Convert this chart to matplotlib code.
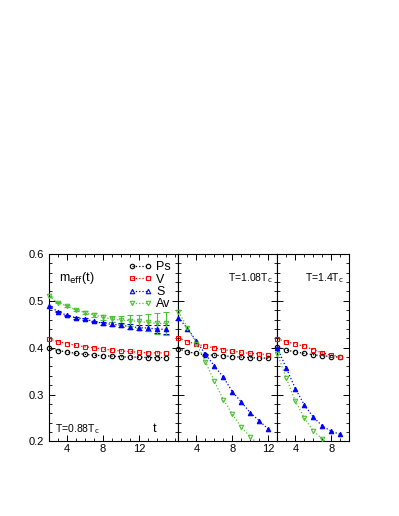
import matplotlib
matplotlib.use("Agg")
import matplotlib.pyplot as plt
from matplotlib.lines import Line2D
from matplotlib.ticker import MultipleLocator

plt.rcParams["font.family"] = ["Liberation Sans", "DejaVu Sans"]

# ---- data: effective masses m_eff(t) ----
t1 = list(range(2, 16))
ps1 = [0.399, 0.394, 0.391, 0.388, 0.386, 0.384, 0.383, 0.382, 0.381, 0.380, 0.380, 0.379, 0.379, 0.379]
v1 = [0.419, 0.413, 0.409, 0.405, 0.402, 0.400, 0.397, 0.395, 0.393, 0.392, 0.390, 0.389, 0.389, 0.389]
s1 = [0.489, 0.477, 0.469, 0.464, 0.461, 0.456, 0.452, 0.450, 0.448, 0.445, 0.443, 0.442, 0.440, 0.439]
av1 = [0.510, 0.496, 0.489, 0.481, 0.475, 0.470, 0.465, 0.461, 0.459, 0.458, 0.456, 0.454, 0.452, 0.452]
s1_err = [0.001, 0.001, 0.001, 0.002, 0.002, 0.002, 0.003, 0.004, 0.004, 0.005, 0.006, 0.007, 0.008, 0.009]
av1_err = [0.001, 0.001, 0.002, 0.002, 0.003, 0.004, 0.005, 0.007, 0.009, 0.011, 0.014, 0.018, 0.022, 0.025]

t2 = list(range(2, 13))
ps2 = [0.398, 0.391, 0.388, 0.385, 0.384, 0.383, 0.381, 0.380, 0.379, 0.378, 0.378]
v2 = [0.421, 0.413, 0.408, 0.403, 0.400, 0.396, 0.393, 0.390, 0.388, 0.387, 0.385]
s2 = [0.464, 0.441, 0.414, 0.386, 0.361, 0.337, 0.306, 0.284, 0.261, 0.244, 0.226]
av2 = [0.477, 0.443, 0.409, 0.370, 0.328, 0.289, 0.258, 0.230, 0.210, 0.192, 0.178]

t3 = list(range(2, 10))
ps3 = [0.401, 0.395, 0.391, 0.388, 0.385, 0.383, 0.381, 0.380]
v3 = [0.419, 0.413, 0.408, 0.403, 0.396, 0.389, 0.384, 0.381]
s3 = [0.400, 0.356, 0.313, 0.278, 0.252, 0.233, 0.222, 0.215]
av3 = [0.387, 0.335, 0.286, 0.250, 0.223, 0.205, 0.190, 0.178]

labels = ["Ps", "V", "S", "Av"]
temps = ["T=0.88T$_{\\rm c}$", "T=1.08T$_{\\rm c}$", "T=1.4T$_{\\rm c}$"]
xticks = [[4, 8, 12], [4, 8, 12], [4, 8]]

colors = ["black", "#ff0000", "#0000ff", "#4cc234"]
markers = ["o", "s", "^", "v"]
fills = ["none", "none", "#0000ff", "none"]

YMIN, YMAX = 0.2, 0.6


def draw(ax, t, series, errs=None):
    for i, y in enumerate(series):
        ax.plot(t, y, ls=":", lw=0.9, color=colors[i])
        inside = [(a, b) for a, b in zip(t, y) if YMIN <= b <= YMAX]
        ax.plot([a for a, _ in inside], [b for _, b in inside], ls="none",
                marker=markers[i], ms=3.2, mew=0.8, mec=colors[i],
                mfc=fills[i], clip_on=False, zorder=3)
        if errs is not None and errs[i] is not None:
            ax.errorbar(t, y, yerr=errs[i], fmt="none", ecolor=colors[i],
                        elinewidth=0.8, capsize=2, capthick=0.8)


fig = plt.figure(figsize=(3.99, 5.16), dpi=100)
left, right = 0.1228, 0.8754
bottom, top = 0.1444, 0.5078
widths = [14.4, 11.0, 8.0]
tot = sum(widths)
x0 = left
axes = []
for w in widths:
    fw = (right - left) * w / tot
    axes.append(fig.add_axes([x0, bottom, fw, top - bottom]))
    x0 += fw

xlims = [(2, 16.4), (2, 13), (2, 10)]
for k, ax in enumerate(axes):
    ax.set_xlim(*xlims[k])
    ax.set_ylim(YMIN, YMAX)
    ax.set_xticks(xticks[k])
    ax.xaxis.set_minor_locator(MultipleLocator(1))
    ax.yaxis.set_major_locator(MultipleLocator(0.1))
    ax.yaxis.set_minor_locator(MultipleLocator(0.02))
    ax.tick_params(which="both", direction="in", top=True, right=True, labelsize=8)
    ax.tick_params(which="major", length=4, width=0.7)
    ax.tick_params(which="minor", length=2, width=0.6)
    ax.tick_params(axis="x", pad=2)
    for sp in ax.spines.values():
        sp.set_linewidth(0.8)
    if k > 0:
        ax.set_yticklabels([])
    else:
        ax.set_yticks([0.2, 0.3, 0.4, 0.5, 0.6])
        ax.set_yticklabels(["0.2", "0.3", "0.4", "0.5", "0.6"])

draw(axes[0], t1, [ps1, v1, s1, av1], [None, None, s1_err, av1_err])
draw(axes[1], t2, [ps2, v2, s2, av2])
draw(axes[2], t3, [ps3, v3, s3, av3])

axes[0].text(0.08, 0.87, r"m$_{\rm eff}$(t)", transform=axes[0].transAxes,
             fontsize=9, va="center")
axes[0].text(0.05, 0.065, temps[0], transform=axes[0].transAxes, fontsize=7.5, va="center")
axes[0].text(0.80, 0.065, "t", transform=axes[0].transAxes, fontsize=9, va="center")
axes[1].text(0.95, 0.87, temps[1], transform=axes[1].transAxes, fontsize=7.5,
             va="center", ha="right")
axes[2].text(0.92, 0.87, temps[2], transform=axes[2].transAxes, fontsize=7.5,
             va="center", ha="right")

handles = [Line2D([0], [0], ls=":", lw=0.9, color=colors[i], marker=markers[i],
                  ms=3.2, mew=0.8, mfc="none") for i in range(4)]
axes[0].legend(handles, labels, loc="upper left", bbox_to_anchor=(0.61, 0.96),
               frameon=False, fontsize=9, numpoints=2, handlelength=1.9,
               handletextpad=0.35, labelspacing=0.02, borderaxespad=0, borderpad=0)

fig.savefig("out.png", dpi=100)
